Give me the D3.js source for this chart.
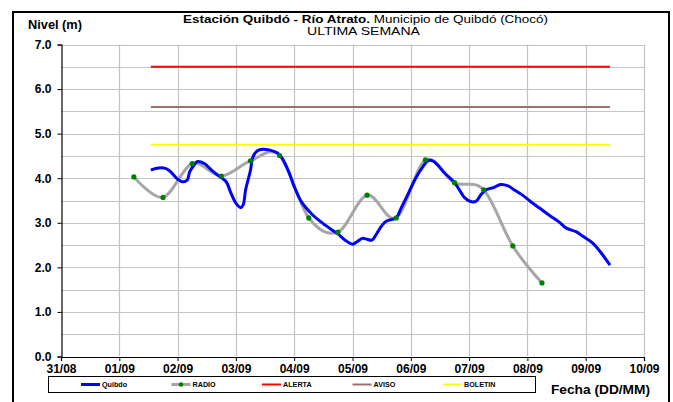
<!DOCTYPE html>
<html><head><meta charset="utf-8">
<script src="https://cdn.jsdelivr.net/npm/d3@7"></script>
<style>body{margin:0;background:#fff}svg{display:block;font-family:"Liberation Sans",Arial,sans-serif}</style>
</head><body><svg id="c" width="673" height="402"></svg>
<script>
// ---- data ----
const quibdoTimes = ["2012-09-01 13:00","2012-09-01 15:00","2012-09-01 19:00","2012-09-01 21:00","2012-09-02 00:00","2012-09-02 02:00","2012-09-02 04:00","2012-09-02 05:00","2012-09-02 07:00","2012-09-02 08:00","2012-09-02 11:00","2012-09-02 14:00","2012-09-02 17:00","2012-09-02 20:00","2012-09-02 22:00","2012-09-03 00:00","2012-09-03 02:00","2012-09-03 03:00","2012-09-03 04:00","2012-09-03 06:00","2012-09-03 07:00","2012-09-03 09:00","2012-09-03 11:00","2012-09-03 14:00","2012-09-03 17:00","2012-09-03 19:00","2012-09-03 22:00","2012-09-04 00:00","2012-09-04 03:00","2012-09-04 07:00","2012-09-04 11:00","2012-09-04 15:00","2012-09-04 18:00","2012-09-04 21:00","2012-09-05 00:00","2012-09-05 02:00","2012-09-05 04:00","2012-09-05 06:00","2012-09-05 08:00","2012-09-05 10:00","2012-09-05 12:00","2012-09-05 14:00","2012-09-05 18:00","2012-09-05 20:00","2012-09-05 23:00","2012-09-06 02:00","2012-09-06 05:00","2012-09-06 07:00","2012-09-06 09:00","2012-09-06 11:00","2012-09-06 14:00","2012-09-06 18:00","2012-09-06 20:00","2012-09-06 22:00","2012-09-07 01:00","2012-09-07 03:00","2012-09-07 05:00","2012-09-07 07:00","2012-09-07 10:00","2012-09-07 13:00","2012-09-07 16:00","2012-09-07 18:00","2012-09-07 22:00","2012-09-08 01:00","2012-09-08 05:00","2012-09-08 09:00","2012-09-08 13:00","2012-09-08 16:00","2012-09-08 20:00","2012-09-08 23:00","2012-09-09 03:00","2012-09-09 06:00","2012-09-09 10:00"];
const quibdoValues = [4.18,4.22,4.22,4.15,3.98,3.92,3.96,4.15,4.31,4.37,4.33,4.18,4.05,3.92,3.66,3.44,3.34,3.40,3.74,4.18,4.48,4.62,4.65,4.63,4.57,4.45,4.11,3.81,3.47,3.21,3.02,2.86,2.75,2.61,2.52,2.58,2.65,2.63,2.61,2.76,2.93,3.04,3.11,3.33,3.66,4.00,4.26,4.39,4.39,4.30,4.11,3.90,3.74,3.57,3.47,3.49,3.64,3.74,3.79,3.86,3.83,3.76,3.62,3.49,3.33,3.17,3.02,2.88,2.80,2.69,2.54,2.35,2.05];
const radioTimes = ["2012-09-01 06:00","2012-09-01 18:00","2012-09-02 06:00","2012-09-02 18:00","2012-09-03 06:00","2012-09-03 18:00","2012-09-04 06:00","2012-09-04 18:00","2012-09-05 06:00","2012-09-05 18:00","2012-09-06 06:00","2012-09-06 18:00","2012-09-07 06:00","2012-09-07 18:00","2012-09-08 06:00"];
const radioValues = [4.03,3.57,4.33,4.05,4.39,4.51,3.11,2.79,3.62,3.11,4.41,3.90,3.74,2.48,1.65];
const thresholdNames = ["ALERTA","AVISO","BOLETIN"];
const thresholdValues = [6.5,5.6,4.75];
const legendNames = ["Quibdo","RADIO","ALERTA","AVISO","BOLETIN"];
const xDomain = ["2012-08-31 00:00","2012-09-10 00:00"];
const yTicks = [0,1,2,3,4,5,6,7];
const yGrid = [0.5,1,1.5,2,2.5,3,3.5,4,4.5,5,5.5,6,6.5,7];
const titleBold = "Estación Quibdó - Río Atrato.";
const titleRest = " Municipio de Quibdó (Chocó)";
const subtitle = "ULTIMA SEMANA";
const yTitle = "Nivel (m)";
const xTitle = "Fecha (DD/MM)";

// ---- styles ----
const colors = {Quibdo:"#0000FF", RADIO:"#A6A6A6", ALERTA:"#FF0000", AVISO:"#A0706C", BOLETIN:"#FFFF00"};

const parse = d3.timeParse("%Y-%m-%d %H:%M");
const svg = d3.select("#c");
const L = 61, R = 644, T = 44.5, B = 356.5;
const x = d3.scaleTime().domain(xDomain.map(parse)).range([L, R]);
const y = d3.scaleLinear().domain([0, 7]).range([B, T]);

// outer border
svg.append("rect").attr("x",13).attr("y",12).attr("width",656).attr("height",400)
  .attr("fill","none").attr("stroke","#000").attr("stroke-width",2);

// grid
const days = d3.timeDay.range(parse(xDomain[0]), d3.timeDay.offset(parse(xDomain[1]),1));
svg.append("g").selectAll("line").data(yGrid).join("line")
  .attr("x1",L).attr("x2",R).attr("y1",d=>Math.round(y(d))+0.5).attr("y2",d=>Math.round(y(d))+0.5)
  .attr("stroke","#C4C4C4").attr("stroke-width",1.2);
svg.append("g").selectAll("line").data(days.slice(1)).join("line")
  .attr("x1",d=>Math.round(x(d))+0.5).attr("x2",d=>Math.round(x(d))+0.5).attr("y1",T).attr("y2",B)
  .attr("stroke","#C4C4C4").attr("stroke-width",1.2);

// axes
const yAxis = d3.axisLeft(y).tickValues(yTicks).tickFormat(d3.format(".1f")).tickSize(4).tickPadding(6);
const gy = svg.append("g").attr("transform",`translate(${L+0.5},0)`).call(yAxis);
const xAxis = d3.axisBottom(x).ticks(d3.timeDay.every(1)).tickFormat(d3.timeFormat("%d/%m")).tickSize(4).tickPadding(3);
const gx = svg.append("g").attr("transform",`translate(0,${B+0.5})`).call(xAxis);
[gx,gy].forEach(g=>{
  g.select(".domain").attr("stroke","#000").attr("stroke-width",1.2);
  g.selectAll(".tick line").attr("stroke","#000");
  g.selectAll("text").attr("font-size",12).attr("font-weight","bold").attr("fill","#000").attr("font-family","Liberation Sans, Arial");
});

// thresholds
const t0 = parse(quibdoTimes[0]), t1 = parse(quibdoTimes[quibdoTimes.length-1]);
svg.append("g").selectAll("line").data(thresholdValues).join("line")
  .attr("x1",x(t0)).attr("x2",x(t1)).attr("y1",d=>y(d)).attr("y2",d=>y(d))
  .attr("stroke",(d,i)=>colors[thresholdNames[i]]).attr("stroke-width",2);

// radio
const radio = radioTimes.map((t,i)=>({t:parse(t),v:radioValues[i]}));
svg.append("path").datum(radio)
  .attr("d", d3.line().x(d=>x(d.t)).y(d=>y(d.v)).curve(d3.curveCardinal.tension(0)))
  .attr("fill","none").attr("stroke",colors.RADIO).attr("stroke-width",3);

// quibdo
const q = quibdoTimes.map((t,i)=>({t:parse(t),v:quibdoValues[i]}));
svg.append("path").datum(q)
  .attr("d", d3.line().x(d=>x(d.t)).y(d=>y(d.v)).curve(d3.curveCatmullRom.alpha(0.5)))
  .attr("fill","none").attr("stroke",colors.Quibdo).attr("stroke-width",3);

svg.append("g").selectAll("circle").data(radio).join("circle")
  .attr("cx",d=>x(d.t)).attr("cy",d=>y(d.v)).attr("r",2.6).attr("fill","#008000");

// titles
const tt = svg.append("text").attr("x",183).attr("y",23).attr("font-size",11.5).attr("fill","#000")
  .attr("textLength",365).attr("lengthAdjust","spacingAndGlyphs");
tt.append("tspan").attr("font-weight","bold").text(titleBold);
tt.append("tspan").text(titleRest);
svg.append("text").attr("x",307).attr("y",35).attr("font-size",11.5)
  .attr("textLength",113).attr("lengthAdjust","spacingAndGlyphs").text(subtitle);
svg.append("text").attr("x",28).attr("y",29).attr("font-size",12).attr("font-weight","bold")
  .attr("textLength",54).attr("lengthAdjust","spacingAndGlyphs").text(yTitle);
svg.append("text").attr("x",551).attr("y",394).attr("font-size",13).attr("font-weight","bold")
  .attr("textLength",99).attr("lengthAdjust","spacingAndGlyphs").text(xTitle);

// legend
const lg = svg.append("g");
lg.append("rect").attr("x",48.5).attr("y",376.5).attr("width",487).attr("height",16).attr("fill","#fff").attr("stroke","#000").attr("stroke-width",1);
legendNames.forEach((n,i)=>{
  const lx = 81 + i*90.5, ly = 384.5;
  lg.append("line").attr("x1",lx).attr("x2",lx+19).attr("y1",ly).attr("y2",ly).attr("stroke",colors[n]).attr("stroke-width",n==="RADIO"||n==="Quibdo"?3:2);
  if(n==="RADIO") lg.append("circle").attr("cx",lx+9.5).attr("cy",ly).attr("r",2.3).attr("fill","#008000");
  lg.append("text").attr("x",lx+21).attr("y",ly+2.5).attr("font-size",7.2).attr("font-weight","bold").text(n);
});
</script></body></html>
